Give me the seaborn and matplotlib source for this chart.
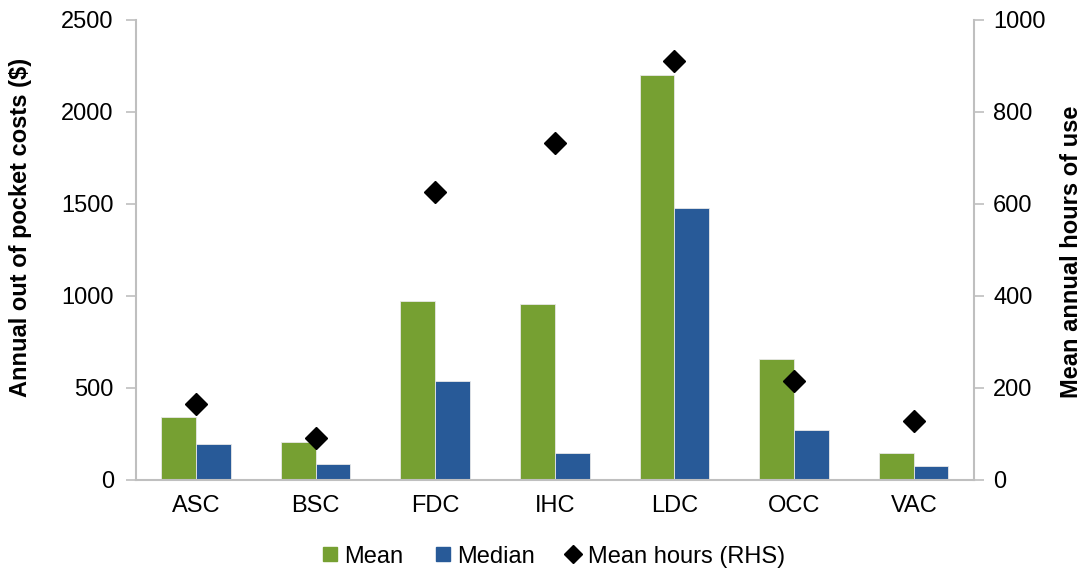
import numpy as np
import pandas as pd
import matplotlib
matplotlib.use('Agg')
import matplotlib.pyplot as plt
import seaborn as sns
from matplotlib.lines import Line2D

### Data ###
categories = ['ASC', 'BSC', 'FDC', 'IHC', 'LDC', 'OCC', 'VAC']
mean_cost = [340, 206, 974, 954, 2200, 656, 144]
median_cost = [196, 86, 536, 144, 1478, 274, 78]
mean_hours = [166, 92, 626, 732, 910, 215, 128]

green = '#76A032'
blue = '#285A98'
grey = '#BFBFBF'

sns.set_theme(style='white')
plt.rcParams['font.family'] = ['Liberation Sans', 'DejaVu Sans']
plt.rcParams['text.color'] = 'black'
plt.rcParams['axes.labelcolor'] = 'black'
plt.rcParams['xtick.color'] = 'black'
plt.rcParams['ytick.color'] = 'black'

df = pd.DataFrame({'Category': categories * 2,
                   'Cost': mean_cost + median_cost,
                   'Series': ['Mean'] * len(categories) + ['Median'] * len(categories)})

fig = plt.figure(figsize=(10.83, 5.71), dpi=100)
ax = fig.add_axes([0.1256, 0.1594, 0.7734, 0.8056])

sns.barplot(data=df, x='Category', y='Cost', hue='Series', palette=[green, blue],
            width=0.58, ax=ax, legend=False, edgecolor='#E8E8E8', linewidth=0.6,
            saturation=1)

ax.set_ylim(0, 2500)
ax.set_yticks(range(0, 2501, 500))
ax.set_xlim(-0.5, len(categories) - 0.5)
ax.set_xlabel('')
ax.set_ylabel('Annual out of pocket costs ($)', fontsize=17, fontweight='bold')
ax.yaxis.set_label_coords(-0.124, 0.548)

# Right hand side axis for hours
ax2 = ax.twinx()
ax2.plot(range(len(categories)), mean_hours, linestyle='none', marker='D',
         markersize=11, color='black')
ax2.set_ylim(0, 1000)
ax2.set_yticks(range(0, 1001, 200))
ax2.set_ylabel('Mean annual hours of use', fontsize=17, fontweight='bold')
ax2.yaxis.set_label_coords(1.103, 0.496)

for a in (ax, ax2):
    a.tick_params(axis='y', labelsize=17, length=7, width=1.2, color=grey, direction='out')
    a.tick_params(axis='x', labelsize=17, length=0, pad=11)
    a.spines['top'].set_visible(False)
    for s in ('left', 'right', 'bottom'):
        a.spines[s].set_color(grey)
        a.spines[s].set_linewidth(1.5)
    a.grid(False)
ax.spines['right'].set_visible(False)
ax2.spines['left'].set_visible(False)
ax2.spines['bottom'].set_visible(False)
ax.tick_params(axis='y', left=True, pad=9)
ax2.tick_params(axis='y', right=True, pad=7)

handles = [Line2D([], [], linestyle='none', marker='s', markersize=9.5, color=green),
           Line2D([], [], linestyle='none', marker='s', markersize=9.5, color=blue),
           Line2D([], [], linestyle='none', marker='D', markersize=9, color='black')]
fig.legend(handles, ['Mean', 'Median', 'Mean hours (RHS)'], loc='center',
           bbox_to_anchor=(0.511, 0.025), ncol=3, frameon=False, fontsize=17,
           handlelength=0.7, handletextpad=0.25, columnspacing=1.3)

fig.savefig('out.png', dpi=100)
